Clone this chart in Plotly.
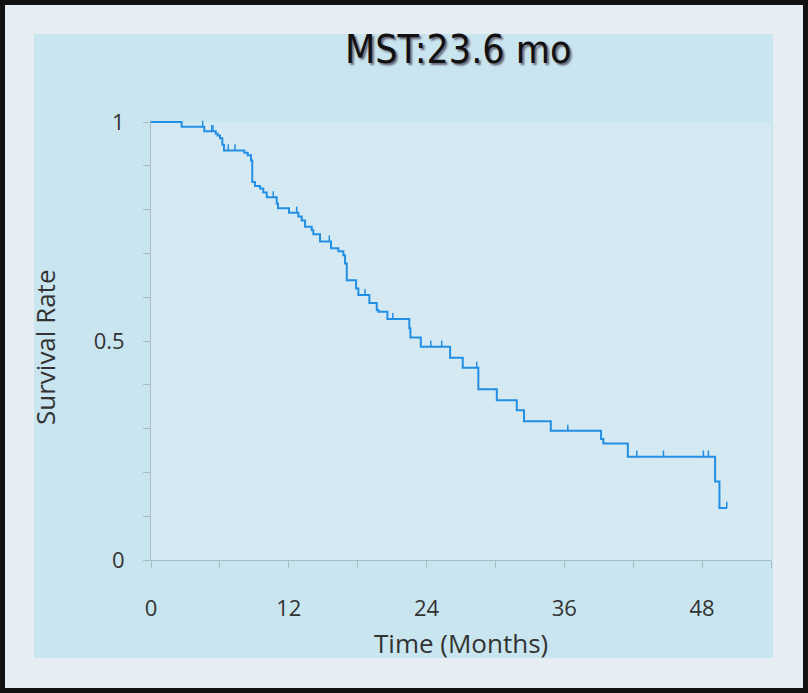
import plotly.graph_objects as go
import numpy as np

# Kaplan-Meier step data
event_times = [0, 2.67, 4.64, 5.64, 5.81, 6.01, 6.21, 6.36, 8.13, 8.42, 8.71, 8.82, 9.06, 9.50,
               9.78, 10.08, 10.95, 11.06, 12.02, 12.83, 13.13, 13.42, 14.00, 14.14, 14.72,
               15.68, 16.32, 16.75, 16.90, 17.05, 17.86, 18.06, 19.02, 19.66, 19.80, 20.59,
               22.50, 22.59, 23.50, 26.05, 27.15, 28.51, 30.12, 31.86, 32.49, 34.82, 39.20,
               39.40, 41.53, 49.13, 49.51]
survival = [1.0, 0.989, 0.979, 0.973, 0.969, 0.963, 0.948, 0.935, 0.930, 0.924, 0.912, 0.863,
            0.854, 0.848, 0.839, 0.828, 0.814, 0.803, 0.793, 0.784, 0.775, 0.761, 0.753, 0.744,
            0.727, 0.712, 0.705, 0.696, 0.677, 0.639, 0.620, 0.605, 0.587, 0.571, 0.567, 0.550,
            0.529, 0.508, 0.487, 0.462, 0.439, 0.390, 0.365, 0.342, 0.317, 0.295, 0.276, 0.266,
            0.236, 0.179, 0.119]
censor_times = [4.50, 5.29, 5.40, 6.73, 7.32, 10.65, 12.69, 15.53, 18.64, 21.06, 24.37, 25.32,
                28.37, 36.30, 42.31, 44.63, 48.11, 48.55, 50.15]
end_time = 50.15

x_ticks = list(range(0, 55, 6))
x_labels = [str(v) if v % 12 == 0 else "" for v in x_ticks]
y_ticks = [round(v * 0.1, 1) for v in range(11)]
y_labels = ["0" if v == 0 else "0.5" if v == 0.5 else "1" if v == 1.0 else "" for v in y_ticks]

title_text = "MST:23.6 mo"
x_title = "Time (Months)"
y_title = "Survival Rate"

# step lookup for censor marks
et = np.array(event_times)
sv = np.array(survival)
censor_y = [float(sv[np.searchsorted(et, t, side="right") - 1]) for t in censor_times]

line_x = event_times + [end_time]
line_y = survival + [survival[-1]]

col = "#228fe4"
fig = go.Figure()
fig.add_trace(go.Scatter(x=line_x, y=line_y, mode="lines", line=dict(color=col, width=2, shape="hv"),
                         showlegend=False, hoverinfo="skip"))
fig.add_trace(go.Scatter(x=censor_times, y=censor_y, mode="markers",
                         marker=dict(size=1, color=col),
                         error_y=dict(type="constant", value=0.014, symmetric=False, valueminus=0,
                                      width=0, thickness=1.5, color=col),
                         showlegend=False, cliponaxis=False, hoverinfo="skip"))

L, R, T, B = 151, 37, 120, 133
W, H = 808, 693
pw, ph = W - L - R, H - T - B


def px2x(px):
    return (px - L) / pw


def py2y(py):
    return (H - B - py) / ph


shapes = [
    dict(type="rect", xref="paper", yref="paper", x0=px2x(5), x1=px2x(803), y0=py2y(688), y1=py2y(5),
         fillcolor="#e6eef4", line=dict(width=0), layer="below"),
    dict(type="rect", xref="paper", yref="paper", x0=px2x(34), x1=px2x(773), y0=py2y(658), y1=py2y(34),
         fillcolor="#c9e5ef", line=dict(width=0), layer="below"),
    dict(type="rect", xref="paper", yref="paper", x0=0, x1=1, y0=0, y1=py2y(122),
         fillcolor="#d4e9f2", line=dict(width=0), layer="below"),
]

fig.update_layout(
    width=W, height=H,
    margin=dict(l=L, r=R, t=T, b=B),
    paper_bgcolor="#121212",
    plot_bgcolor="#c9e5ef",
    shapes=shapes,
    font=dict(family="Open Sans", color="#333333"),
    annotations=[
        dict(text=title_text, xref="paper", yref="paper", x=px2x(458), y=py2y(49), showarrow=False,
             xanchor="center", yanchor="middle",
             font=dict(family="DejaVu Sans Condensed, DejaVu Sans", size=39, color="#111111",
                       shadow="2px 2px 2px #667")),
        dict(text=x_title, xref="paper", yref="paper", x=px2x(461), y=py2y(643), showarrow=False,
             xanchor="center", yanchor="middle", font=dict(family="Open Sans", size=26, color="#333333")),
        dict(text=y_title, xref="paper", yref="paper", x=px2x(45), y=py2y(347), showarrow=False,
             textangle=-90, xanchor="center", yanchor="middle",
             font=dict(family="Open Sans", size=26, color="#333333")),
    ],
)
fig.update_xaxes(range=[0, 54], tickvals=x_ticks, ticktext=x_labels, showgrid=False, zeroline=False,
                 showline=True, linecolor="#a8bcc6", linewidth=1, ticks="outside", ticklen=7,
                 tickcolor="#a8bcc6", tickfont=dict(size=22, color="#333333"), ticklabelstandoff=22)
fig.update_yaxes(range=[0, 1.0046], tickvals=y_ticks, ticktext=y_labels, showgrid=False, zeroline=False,
                 showline=True, linecolor="#a8bcc6", linewidth=1, ticks="outside", ticklen=7,
                 tickcolor="#a8bcc6", tickfont=dict(size=22, color="#333333"), ticklabelstandoff=14)

fig.write_html("out.html", post_script="document.body.style.margin='0';",
               config={"displayModeBar": False})
